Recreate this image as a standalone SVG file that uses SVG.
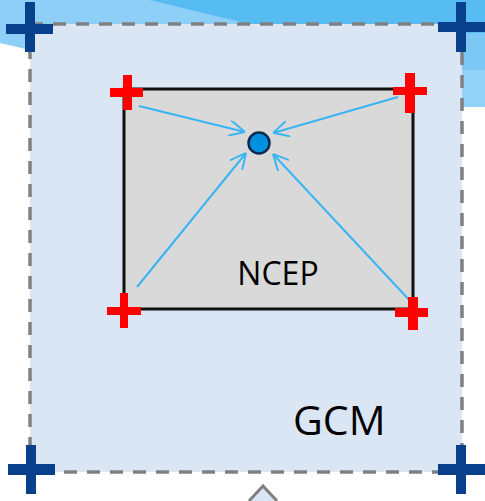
<svg xmlns="http://www.w3.org/2000/svg" width="485" height="501" viewBox="0 0 485 501">
<style>
.bg-dark{fill:#57bcf2}
.bg-light{fill:#8dcff6}
.gcm{fill:#dbe6f5;stroke:#808080;stroke-width:3.5;stroke-dasharray:13 10}
.bcross{fill:#08408c}
.rcross{fill:#ff0000}
.ncep{fill:#d9d9d9;stroke:#111;stroke-width:3}
.lbl{font-family:"Open Sans","Liberation Sans",sans-serif;fill:#000}
.arr{stroke:#3ab4f2;stroke-width:2;fill:none;marker-end:url(#ah)}
</style>
<defs>
<marker id="ah" viewBox="0 0 10 10" refX="10" refY="5" markerWidth="16" markerHeight="16" markerUnits="userSpaceOnUse" orient="auto">
<path d="M0,0 L10,5 L0,10" fill="none" stroke="#3ab4f2" stroke-width="1.2"/>
</marker>
</defs>
<rect width="485" height="501" fill="#ffffff"/>
<g id="background">
<polygon class="bg-light" points="0,0 160,0 240,22 240,24 30,24 30,50 0,43"/>
<polygon class="bg-dark" points="150,0 485,0 485,33 462,33 462,24 240,24 240,22"/>
<rect x="462" y="33" width="23" height="37" fill="#7cc8f5"/>
<rect x="462" y="70" width="23" height="37" fill="#93d3f8"/>
</g>
<g id="gcm">
<rect class="gcm" x="30" y="24" width="432" height="448"/>
<text class="lbl" x="293" y="435" font-size="41">GCM</text>
</g>
<g id="gcm-corners">
<path class="bcross" d="M25,2h10v22h18v10h-18v18h-10v-18h-19v-10h19z"/>
<path class="bcross" d="M456,2h10v20h19v10h-19v20h-10v-20h-18v-10h18z"/>
<path class="bcross" d="M26,445h10v19h19v11h-19v19h-10v-19h-18v-11h18z"/>
<path class="bcross" d="M456,445h10v19h19v11h-19v19h-10v-19h-18v-11h18z"/>
</g>
<g id="ncep">
<rect class="ncep" x="124" y="89" width="289" height="220"/>
<text class="lbl" x="278" y="285" font-size="32" text-anchor="middle">NCEP</text>
</g>
<g id="connectors">
<line class="arr" x1="139" y1="106" x2="245" y2="132"/>
<line class="arr" x1="398" y1="97" x2="273" y2="133"/>
<line class="arr" x1="137" y1="287" x2="246" y2="153"/>
<line class="arr" x1="412" y1="303" x2="273" y2="154"/>
</g>
<g id="ncep-corners">
<path class="rcross" d="M123,75h9v13h11v9h-11v13h-9v-13h-13v-9h13z"/>
<path class="rcross" d="M405,73h10v14h12v8h-12v18h-10v-18h-12v-8h12z"/>
<path class="rcross" d="M120,293h8v14h13v8h-13v13h-8v-13h-13v-8h13z"/>
<path class="rcross" d="M408,297h10v11h10v9h-10v13h-10v-13h-13v-9h13z"/>
</g>
<g id="target">
<circle cx="259" cy="143" r="10.5" fill="#0090e0" stroke="#0a2a50" stroke-width="2.5"/>
</g>
<g id="next">
<polyline points="249,501 263,486 277,501" fill="#dbe6f5" stroke="#808080" stroke-width="3"/>
</g>
</svg>
